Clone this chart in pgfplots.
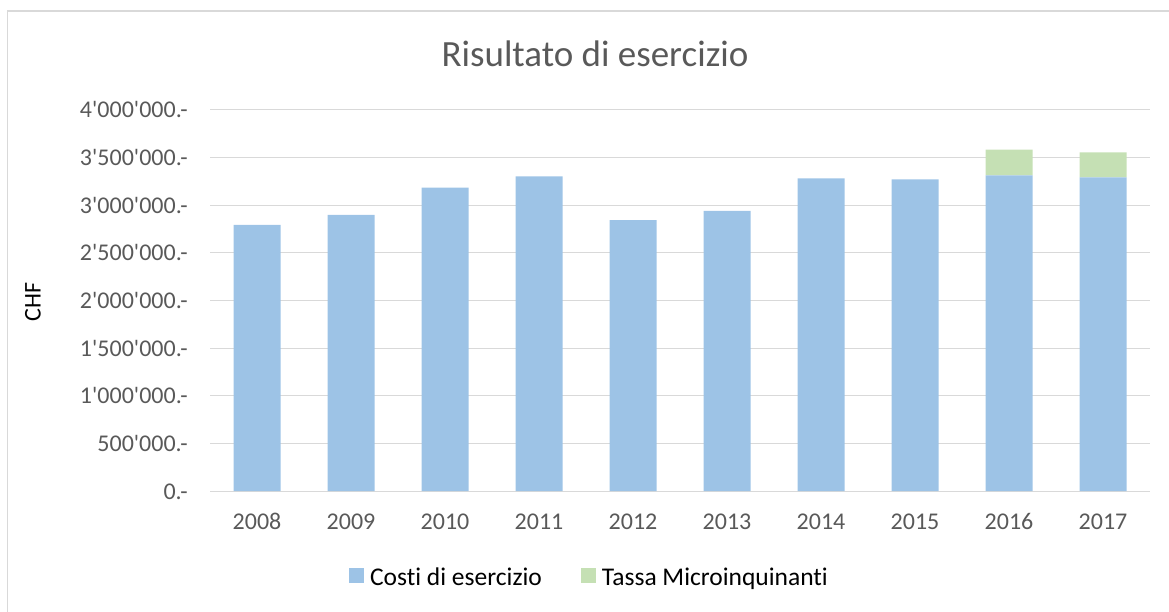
\documentclass[border=0pt]{standalone}
\usepackage{fontspec}
\setmainfont{Carlito}[Ligatures={NoCommon}]
\usepackage{pgfplots}
\pgfplotsset{compat=1.18}
\definecolor{barblue}{HTML}{9DC3E6}
\definecolor{bargreen}{HTML}{C5E0B4}
\definecolor{gridgrey}{HTML}{D9D9D9}
\definecolor{txtgrey}{HTML}{595959}
\newcommand\ap{\textquotesingle}
\begin{document}
\begin{tikzpicture}
\useasboundingbox (0pt,0pt) rectangle (1169pt,611pt);
\draw[gridgrey, line width=1.5pt] (7.5pt,-30pt) -- (7.5pt,600pt) -- (1200pt,600pt);
\node[anchor=base, text=txtgrey, font=\fontsize{37}{44}\selectfont] at (595pt,544pt) {Risultato di esercizio};
\node[rotate=90, text=black, font=\fontsize{24}{28}\selectfont, inner sep=0pt] at (33pt,309pt) {CHF};
\begin{axis}[
  at={(210pt,120pt)}, anchor=south west,
  scale only axis, width=940pt, height=381pt,
  ybar stacked, bar width=47pt,
  ymin=0, ymax=4000000, xmin=-0.5, xmax=9.5,
  xtick={0,1,2,3,4,5,6,7,8,9},
  xticklabels={2008,2009,2010,2011,2012,2013,2014,2015,2016,2017},
  ytick={0,500000,1000000,1500000,2000000,2500000,3000000,3500000,4000000},
  yticklabels={0.-,500\ap000.-,1\ap000\ap000.-,1\ap500\ap000.-,2\ap000\ap000.-,2\ap500\ap000.-,3\ap000\ap000.-,3\ap500\ap000.-,4\ap000\ap000.-},
  scaled y ticks=false,
  ymajorgrids, grid style={draw=gridgrey, line width=1pt},
  axis x line*=bottom, axis y line*=left,
  x axis line style={draw=gridgrey, line width=1pt, -},
  y axis line style={draw=none},
  major tick length=0pt,
  tick label style={text=txtgrey, font=\fontsize{24}{28}\selectfont, inner sep=0pt},
  yticklabel style={anchor=base east, xshift=-22pt, yshift=-8pt},
  xticklabel style={anchor=base, yshift=-38pt},
  legend style={draw=none, fill=none, at={(0.4027,-0.2257)}, anchor=center,
    legend columns=2, font=\fontsize{25.5}{30}\selectfont, text=black,
    nodes={inner sep=0pt},
    /tikz/every odd column/.append style={column sep=6pt},
    /tikz/every even column/.append style={column sep=39pt}},
  legend cell align=left,
  area legend,
  legend image code/.code={\fill[#1] (0pt,-6pt) rectangle (15pt,9pt);},
]
\addplot[fill=barblue, draw=none] coordinates {
(0,2794000) (1,2898000) (2,3186000) (3,3304000) (4,2843000)
(5,2940000) (6,3283000) (7,3272000) (8,3314000) (9,3293000)};
\addplot[fill=bargreen, draw=none] coordinates {
(0,0) (1,0) (2,0) (3,0) (4,0)
(5,0) (6,0) (7,0) (8,269000) (9,263000)};
\legend{Costi di esercizio,Tassa Microinquinanti}
\end{axis}
\end{tikzpicture}
\end{document}
